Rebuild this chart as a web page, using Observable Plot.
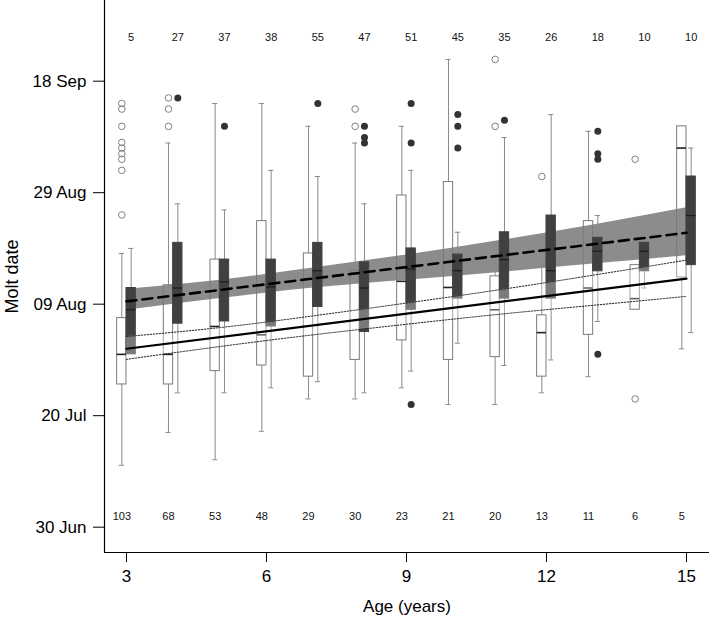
<!DOCTYPE html>
<html><head><meta charset="utf-8">
<script src="https://cdn.jsdelivr.net/npm/d3@7"></script>
<script src="https://cdn.jsdelivr.net/npm/@observablehq/plot@0.6"></script>
<style>body{margin:0;background:#fff}</style>
</head><body><div id="chart"></div>
<script>
// ---- data (molt date as days after 30 Jun) ----
const ages = [3,4,5,6,7,8,9,10,11,12,13,14,15];
const countsDark  = [5,27,37,38,55,47,51,45,35,26,18,10,10];
const countsWhite = [103,68,53,48,29,30,23,21,20,13,11,6,5];

const whiteLo  = [11.1,17.0,12.1,17.2,23.0,23.0,25.0,22.0,22.0,24.1,27.0,39.0,32.0];
const whiteQ1  = [25.6,25.6,28.0,29.0,27.0,30.0,33.5,30.0,30.5,27.0,34.5,39.0,44.8];
const whiteMed = [31.0,31.0,36.0,34.5,44.5,45.5,44.1,43.0,39.0,34.9,42.9,41.0,68.0];
const whiteQ3  = [37.5,43.4,48.0,54.9,49.1,46.0,59.5,61.9,45.0,38.0,54.9,47.0,71.9];
const whiteHi  = [49.1,68.9,76.0,76.0,71.9,68.9,71.9,83.9,47.9,51.9,71.0,47.0,71.9];
const whiteOutliers = [
  [76.0,75.0,71.9,69.0,68.0,67.0,66.0,64.0,56.0],
  [77.0,75.0,71.9],[],[],[],[75.0,71.9],[],[],[83.9,71.9],[62.9],[],[66.0,23.0],[]
];

const darkLo  = [31.0,24.1,24.1,25.0,26.1,24.1,28.0,33.0,29.0,30.0,36.9,42.9,34.9];
const darkQ1  = [31.0,36.5,36.9,36.0,39.5,35.0,39.0,41.0,41.0,41.0,45.9,45.9,47.0];
const darkMed = [39.0,42.9,44.0,43.1,46.0,42.9,46.3,46.0,48.0,46.0,49.5,49.5,55.9];
const darkQ3  = [42.9,51.0,48.0,48.0,51.0,47.5,50.0,48.9,52.9,55.9,51.9,51.0,62.9];
const darkHi  = [50.0,58.0,56.9,64.0,62.9,58.0,64.0,52.9,69.9,74.0,55.9,53.9,68.0];
const darkOutliers = [
  [],[77.0],[71.9],[],[76.0],[71.9,69.9,68.9],[76.0,68.9,22.0],[74.0,71.9,68.0],[73.0],[],[71.0,67.0,66.0,31.0],[],[]
];

// regression fits and confidence bands
const fitAges  = [3, 15];
const darkFit  = [40.5, 52.8];
const whiteFit = [32.0, 44.6];
const bandAges   = [3,5,7,9,11,13,15];
const darkBandLo = [38.9,41.0,42.9,44.3,45.7,47.2,48.7];
const darkBandHi = [42.7,44.3,46.5,48.8,51.4,54.2,57.3];
const whiteBandLo = [30.1,32.4,34.5,36.4,38.2,39.8,41.4];
const whiteBandHi = [34.2,35.8,37.9,40.2,42.6,45.2,47.9];

const yTickValues = [0,20,40,60,80];
const yTickLabels = ["30 Jun","20 Jul","09 Aug","29 Aug","18 Sep"];
const xTicks = [3,6,9,12,15];

// ---- tables ----
const white = ages.map((a,i)=>({age:a, lo:whiteLo[i], q1:whiteQ1[i], med:whiteMed[i], q3:whiteQ3[i], hi:whiteHi[i], n:countsWhite[i]}));
const dark  = ages.map((a,i)=>({age:a, lo:darkLo[i], q1:darkQ1[i], med:darkMed[i], q3:darkQ3[i], hi:darkHi[i], n:countsDark[i]}));
const whiteOut = ages.flatMap((a,i)=>whiteOutliers[i].map(v=>({age:a, v})));
const darkOut  = ages.flatMap((a,i)=>darkOutliers[i].map(v=>({age:a, v})));
const fit = fitAges.map((a,i)=>({age:a, dark:darkFit[i], white:whiteFit[i]}));
const band = bandAges.map((a,i)=>({age:a, dlo:darkBandLo[i], dhi:darkBandHi[i], wlo:whiteBandLo[i], whi:whiteBandHi[i]}));

const OFF = 0.1, HALF = 0.1, CAP = 0.055;
const xDomain = [2.529, 15.493];
const yDomain = [-4.54, 94.47];

function boxMarks(data, side, style) {
  const c = d => d.age + side*OFF;
  const capsLo = data.filter(d => d.lo < d.q1);
  const capsHi = data.filter(d => d.hi > d.q3);
  return [
    Plot.ruleX(capsLo, {x: c, y1: "lo", y2: "q1", stroke: "#8a8a8a", strokeWidth: 1}),
    Plot.ruleX(capsHi, {x: c, y1: "q3", y2: "hi", stroke: "#8a8a8a", strokeWidth: 1}),
    Plot.ruleY(capsLo, {y: "lo", x1: d => c(d)-CAP, x2: d => c(d)+CAP, stroke: "#8a8a8a", strokeWidth: 1}),
    Plot.ruleY(capsHi, {y: "hi", x1: d => c(d)-CAP, x2: d => c(d)+CAP, stroke: "#8a8a8a", strokeWidth: 1}),
    Plot.rect(data, {x1: d => c(d)-HALF, x2: d => c(d)+HALF, y1: "q1", y2: "q3", fill: style.fill, stroke: style.stroke, strokeWidth: 1}),
    Plot.ruleY(data, {y: "med", x1: d => c(d)-HALF, x2: d => c(d)+HALF, stroke: style.med, strokeWidth: style.medW})
  ];
}

const chart = Plot.plot({
  width: 709, height: 618,
  marginLeft: 104, marginRight: 0, marginTop: 0, marginBottom: 66,
  style: {fontFamily: "'Liberation Sans', Arial, sans-serif", background: "white", color: "black"},
  x: {domain: xDomain},
  y: {domain: yDomain},
  marks: [
    Plot.areaY(band, {x: "age", y1: "dlo", y2: "dhi", fill: "#8c8c8c", curve: "natural"}),
    ...boxMarks(white, -1, {fill: "none", stroke: "#7a7a7a", med: "#222", medW: 1.6}),
    ...boxMarks(dark, 1, {fill: "#404040", stroke: "#404040", med: "#1a1a1a", medW: 1.2}),
    Plot.areaY(band, {x: "age", y1: "wlo", y2: "whi", fill: "white", fillOpacity: 0.3, curve: "natural"}),
    Plot.dot(whiteOut, {x: d => d.age - OFF, y: "v", r: 3.3, stroke: "#808080", strokeWidth: 1, fill: "none"}),
    Plot.dot(darkOut, {x: d => d.age + OFF, y: "v", r: 3.5, fill: "#333", stroke: "none"}),
    Plot.line(band, {x: "age", y: "wlo", stroke: "#222", strokeWidth: 1, strokeDasharray: "1.5,1.5", curve: "natural"}),
    Plot.line(band, {x: "age", y: "whi", stroke: "#222", strokeWidth: 1, strokeDasharray: "1.5,1.5", curve: "natural"}),
    Plot.line(fit, {x: "age", y: "white", stroke: "black", strokeWidth: 2.2}),
    Plot.line(fit, {x: "age", y: "dark", stroke: "black", strokeWidth: 2.6, strokeDasharray: "10,6"}),
    Plot.text(dark, {x: d => d.age + OFF, text: "n", frameAnchor: "top", dy: 37, lineAnchor: "middle", fontSize: 11, fill: "#111"}),
    Plot.text(white, {x: d => d.age - OFF, text: "n", frameAnchor: "bottom", dy: -36, lineAnchor: "middle", fontSize: 11, fill: "#111"}),
    Plot.ruleX([xDomain[0]], {stroke: "black", strokeWidth: 1.2}),
    Plot.ruleY([yDomain[0]], {stroke: "black", strokeWidth: 1.2}),
    Plot.axisX({ticks: xTicks, tickSize: 10, tickPadding: 7, fontSize: 17, label: null, tickFormat: d => String(d)}),
    Plot.axisY({ticks: yTickValues, tickFormat: d => yTickLabels[yTickValues.indexOf(d)], tickSize: 11, tickPadding: 7, fontSize: 17, label: null}),
    Plot.text(["Molt date"], {frameAnchor: "left", dx: -92, rotate: -90, textAnchor: "middle", lineAnchor: "middle", fontSize: 18, fill: "black"}),
    Plot.text(["Age (years)"], {frameAnchor: "bottom", dy: 54, textAnchor: "middle", lineAnchor: "middle", fontSize: 17, fill: "black"})
  ]
});
document.getElementById("chart").appendChild(chart);
</script>
</body></html>
